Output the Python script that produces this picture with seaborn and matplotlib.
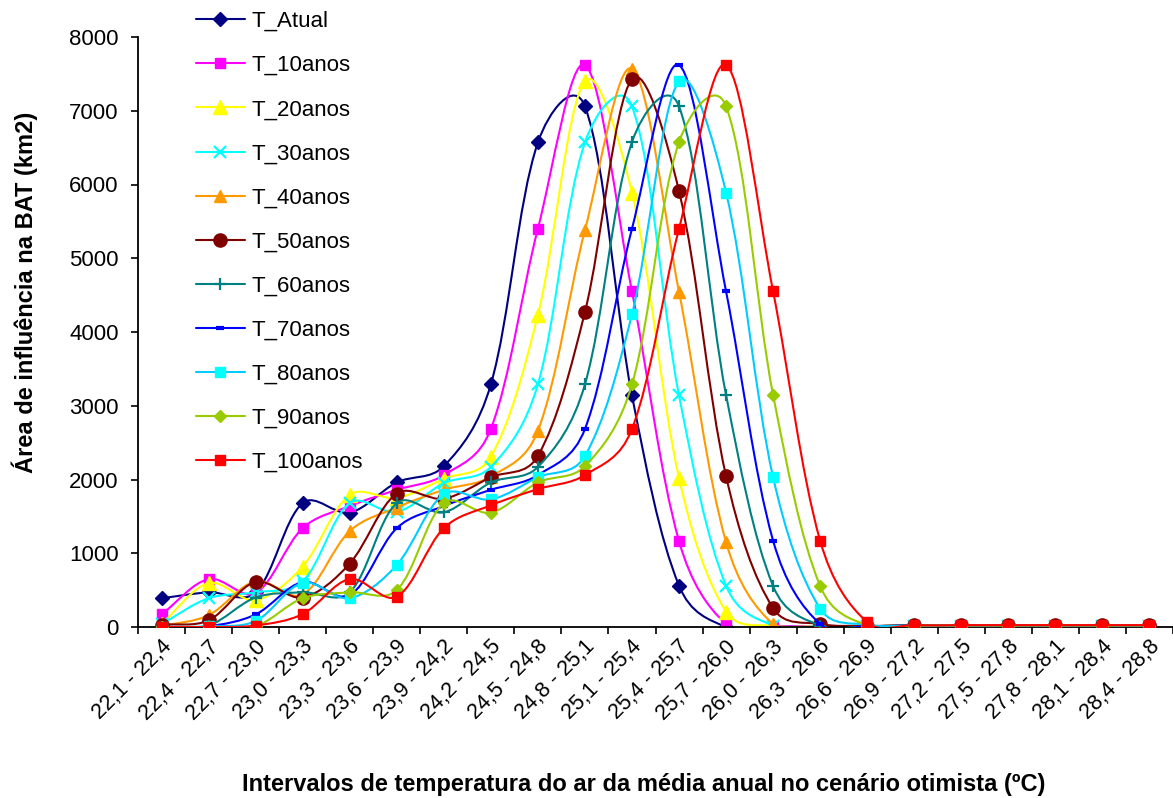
import numpy as np
import pandas as pd
import matplotlib
matplotlib.use("Agg")
import matplotlib.pyplot as plt
from matplotlib.path import Path
from matplotlib.patches import PathPatch
from matplotlib.lines import Line2D
import matplotlib.transforms as mtransforms
import seaborn as sns

# ---------------- data ----------------
categories = ["22,1 - 22,4", "22,4 - 22,7", "22,7 - 23,0", "23,0 - 23,3", "23,3 - 23,6",
              "23,6 - 23,9", "23,9 - 24,2", "24,2 - 24,5", "24,5 - 24,8", "24,8 - 25,1",
              "25,1 - 25,4", "25,4 - 25,7", "25,7 - 26,0", "26,0 - 26,3", "26,3 - 26,6",
              "26,6 - 26,9", "26,9 - 27,2", "27,2 - 27,5", "27,5 - 27,8", "27,8 - 28,1",
              "28,1 - 28,4", "28,4 - 28,8"]

t_atual = [390, 470, 470, 1680, 1550, 1960, 2180, 3290, 6570, 7060, 3140, 560, 0, 5, 5, 10, 20, 20, 20, 20, 20, 20]
t_10 = [170, 650, 460, 1340, 1640, 1860, 2060, 2685, 5400, 7620, 4550, 1165, 40, 10, 10, 10, 20, 20, 20, 20, 20, 20]
t_20 = [40, 595, 365, 820, 1790, 1750, 2010, 2310, 4230, 7400, 5890, 2020, 210, 15, 10, 10, 20, 20, 20, 20, 20, 20]
t_30 = [40, 390, 470, 620, 1680, 1560, 1950, 2170, 3290, 6570, 7060, 3140, 560, 20, 10, 10, 20, 20, 20, 20, 20, 20]
t_40 = [10, 160, 620, 440, 1300, 1620, 1860, 2040, 2660, 5380, 7570, 4545, 1150, 40, 10, 10, 20, 20, 20, 20, 20, 20]
t_50 = [30, 90, 610, 400, 860, 1810, 1740, 2030, 2320, 4270, 7430, 5910, 2045, 255, 40, 15, 25, 25, 25, 25, 25, 25]
t_60 = [0, 20, 400, 470, 470, 1680, 1555, 1960, 2170, 3290, 6575, 7060, 3145, 555, 20, 10, 20, 20, 20, 20, 20, 20]
t_70 = [0, 10, 170, 610, 430, 1340, 1640, 1860, 2060, 2685, 5400, 7620, 4550, 1170, 40, 10, 20, 20, 20, 20, 20, 20]
t_80 = [0, 10, 80, 600, 390, 840, 1800, 1730, 2030, 2320, 4240, 7400, 5890, 2030, 250, 30, 20, 20, 20, 20, 20, 20]
t_90 = [0, 0, 10, 390, 470, 500, 1680, 1550, 1960, 2180, 3290, 6575, 7060, 3145, 555, 20, 20, 20, 20, 20, 20, 20]
t_100 = [0, 0, 20, 175, 650, 410, 1340, 1650, 1870, 2060, 2685, 5400, 7620, 4550, 1170, 65, 25, 25, 25, 25, 25, 25]

series_names = ["T_Atual", "T_10anos", "T_20anos", "T_30anos", "T_40anos", "T_50anos",
                "T_60anos", "T_70anos", "T_80anos", "T_90anos", "T_100anos"]
series_values = [t_atual, t_10, t_20, t_30, t_40, t_50, t_60, t_70, t_80, t_90, t_100]

y_ticks = [0, 1000, 2000, 3000, 4000, 5000, 6000, 7000, 8000]

# ---------------- styles ----------------
styles = {
    "T_Atual":   dict(line="#000080", mfc="#000080", marker="D", ms=7.5, mew=1.0),
    "T_10anos":  dict(line="#FF00FF", mfc="#FF00FF", marker="s", ms=7.5, mew=1.0),
    "T_20anos":  dict(line="#FFFF00", mfc="#FFFF00", marker="^", ms=10, mew=1.0),
    "T_30anos":  dict(line="#00FFFF", mfc="#00FFFF", marker="x", ms=8.5, mew=1.6),
    "T_40anos":  dict(line="#FF9900", mfc="#FF9900", marker="^", ms=8, mew=1.0),
    "T_50anos":  dict(line="#800000", mfc="#800000", marker="o", ms=9.5, mew=1.0),
    "T_60anos":  dict(line="#008080", mfc="#008080", marker="+", ms=9, mew=1.6),
    "T_70anos":  dict(line="#0000FF", mfc="#0000FF", marker="_", ms=6, mew=3.0),
    "T_80anos":  dict(line="#00CCFF", mfc="#00FFFF", marker="s", ms=7.5, mew=1.0),
    "T_90anos":  dict(line="#99CC00", mfc="#99CC00", marker="D", ms=6, mew=1.0),
    "T_100anos": dict(line="#FF0000", mfc="#FF0000", marker="s", ms=7.5, mew=1.0),
}

sns.set_style("white")
plt.rcParams["font.family"] = ["Liberation Sans", "DejaVu Sans"]
plt.rcParams.update({"text.color": "black", "axes.labelcolor": "black",
                     "xtick.color": "black", "ytick.color": "black"})

W, H = 1173, 798
fig = plt.figure(figsize=(W / 100, H / 100), dpi=100)
ax = fig.add_axes([138 / W, 1 - 627 / H, 1035 / W, 590 / H])
ax.set_xlim(-0.5, len(categories) - 0.5)
ax.set_ylim(0, 8000)

x_idx = np.arange(len(categories))

# display scale (px per data unit) used only to weight the smoothing tangents
SX = 1035 / len(categories)
SY = 590 / 8000


def smooth_path(x, y):
    """Excel-like smoothed line: cubic Bezier through the data points,
    tangents partly weighted by neighbouring chord lengths."""
    n = len(x)
    px, py = x * SX, y * SY
    d = np.hypot(np.diff(px), np.diff(py))  # chord lengths
    verts = [(x[0], y[0])]
    codes = [Path.MOVETO]
    for i in range(n - 1):
        a = i - 1 if i > 0 else i
        b = i + 2 if i + 2 < n else i + 1
        dprev = d[i - 1] if i > 0 else 0.0
        dnext = d[i + 1] if i + 2 < n else 0.0
        di = d[i]
        u1 = 1 / 6 if i > 0 else 1 / 3
        u2 = 1 / 6 if i + 2 < n else 1 / 3
        w1 = di / (dprev + di) / 3.0 if (dprev + di) > 0 else 0.0
        w2 = di / (di + dnext) / 3.0 if (di + dnext) > 0 else 0.0
        w1 = 0.5 * (w1 + u1)
        w2 = 0.5 * (w2 + u2)
        c1 = (x[i] + (x[i + 1] - x[a]) * w1, y[i] + (y[i + 1] - y[a]) * w1)
        c2 = (x[i + 1] - (x[b] - x[i]) * w2, y[i + 1] - (y[b] - y[i]) * w2)
        verts += [c1, c2, (x[i + 1], y[i + 1])]
        codes += [Path.CURVE4] * 3
    return Path(verts, codes)


handles = []
for k, (name, vals) in enumerate(zip(series_names, series_values)):
    st = styles[name]
    z = 2 + k * 0.1
    vals = np.asarray(vals, dtype=float)
    patch = PathPatch(smooth_path(x_idx.astype(float), vals), facecolor="none",
                      edgecolor=st["line"], lw=1.5, zorder=z, joinstyle="round")
    ax.add_patch(patch)
    df = pd.DataFrame({"x": x_idx, "y": vals})
    sns.lineplot(data=df, x="x", y="y", ax=ax, linestyle="none", marker=st["marker"],
                 markersize=st["ms"], markerfacecolor=st["mfc"], markeredgecolor=st["mfc"],
                 markeredgewidth=st["mew"], color=st["line"], zorder=z + 0.05,
                 legend=False)
    handles.append(Line2D([0], [0], color=st["line"], lw=1.5, marker=st["marker"],
                          markersize=st["ms"], markerfacecolor=st["mfc"],
                          markeredgecolor=st["mfc"], markeredgewidth=st["mew"]))

ax.set_xlim(-0.5, len(categories) - 0.5)
ax.set_ylim(0, 8000)

# axes styling
for s in ["top", "right"]:
    ax.spines[s].set_visible(False)
for s in ["left", "bottom"]:
    ax.spines[s].set_color("black")
    ax.spines[s].set_linewidth(1.3)

ax.set_yticks(y_ticks)
ax.set_yticklabels([str(v) for v in y_ticks], fontsize=16, color="black")
ax.tick_params(axis="y", direction="out", length=5, width=1.2, pad=9, left=True,
               colors="black")

ax.set_xticks(x_idx)
ax.set_xticklabels(categories, fontsize=15.5, rotation=45, ha="right",
                   va="center", rotation_mode="anchor", color="black")
ax.set_xticks(np.arange(-0.5, len(categories) + 0.5, 1.0), minor=True)
ax.tick_params(axis="x", which="major", length=0, pad=12, colors="black")
ax.tick_params(axis="x", which="minor", direction="out", length=5, width=1.2,
               bottom=True, colors="black")
offset = mtransforms.ScaledTranslation(7 / 100, 0, fig.dpi_scale_trans)
for lab in ax.get_xticklabels():
    lab.set_transform(lab.get_transform() + offset)
ax.set_xlabel("")
ax.set_ylabel("")
ax.grid(False)

fig.text(644 / W, 1 - 785 / H,
         "Intervalos de temperatura do ar da média anual no cenário otimista (ºC)",
         ha="center", va="center", fontsize=17, fontweight="bold", color="black")
fig.text(25 / W, 1 - 292 / H, "Área de influência na BAT (km2)", rotation=90,
         ha="center", va="center", fontsize=17, fontweight="bold", color="black")

leg = fig.legend(handles, series_names, loc="upper left",
                 bbox_to_anchor=(196 / W, 1 - 11 / H),
                 frameon=False, fontsize=16, handlelength=2.2, handletextpad=0.3,
                 labelspacing=1.04, borderpad=0, borderaxespad=0)
for t in leg.get_texts():
    t.set_color("black")

fig.savefig("out.png", dpi=100, facecolor="white")
